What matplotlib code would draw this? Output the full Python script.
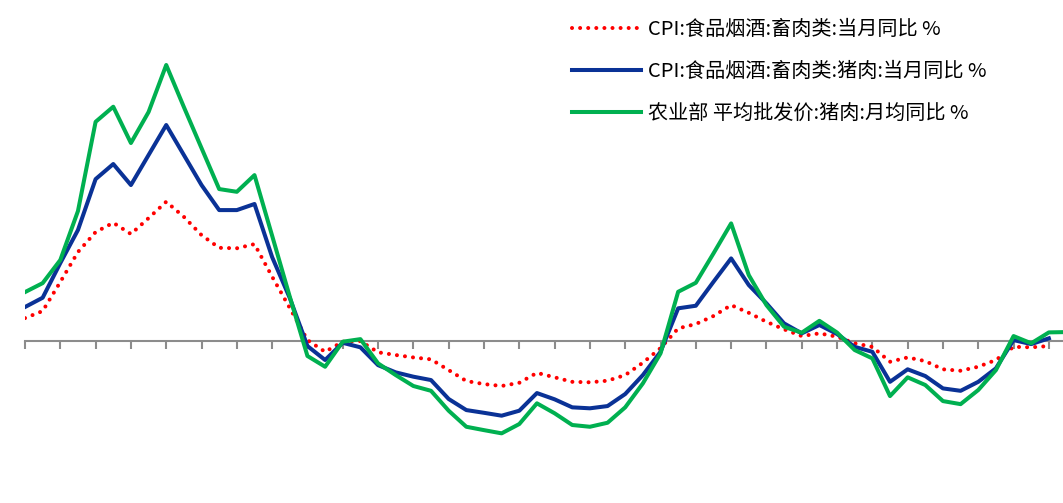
import numpy as np
import matplotlib
matplotlib.use("Agg")
import matplotlib.pyplot as plt

plt.rcParams['font.family'] = ['Noto Sans CJK SC', 'DejaVu Sans']

# monthly YoY change, %
meat_cpi = [14.3, 18.7, 36.8, 55.5, 67.9, 73.7, 66.7, 76.6, 86.8, 77.4,
            66.0, 58.1, 57.8, 60.4, 40.1, 20.6, 0.6, -6.7, -0.4, 0.0,
            -7.0, -8.7, -10.2, -11.4, -18.1, -24.9, -26.8, -28.0, -26.0, -19.8,
            -22.6, -25.4, -25.7, -24.7, -21.2, -13.5, -4.4, 7.9, 10.6, 15.6,
            22.4, 17.6, 12.0, 7.3, 3.1, 4.8, 2.7, -1.4, -3.6, -12.9,
            -10.2, -12.5, -17.6, -18.5, -16.0, -11.8, -3.6, -3.9, -3.1]
pork_cpi = [21.2, 27.0, 48.6, 69.2, 100.9, 110.3, 97.2, 115.9, 134.6, 115.9,
            97.2, 81.6, 81.6, 85.4, 52.3, 26.8, -3.1, -11.8, -1.1, -3.9,
            -15.0, -19.5, -22.2, -24.3, -36.1, -43.0, -44.7, -46.5, -43.4, -32.4,
            -36.3, -41.3, -41.9, -40.5, -33.0, -21.2, -6.7, 20.4, 22.0, 36.9,
            51.5, 34.9, 23.5, 11.0, 4.8, 10.0, 4.4, -3.6, -6.7, -25.4,
            -17.6, -21.8, -29.5, -31.0, -25.4, -17.0, 0.6, -1.9, 1.7]
pork_wholesale = [30.5, 36.1, 50.5, 81.0, 136.6, 146.0, 123.4, 142.7, 172.0, 145.8,
                  120.2, 94.7, 93.0, 103.4, 65.6, 27.6, -9.3, -16.0, -0.4, 1.2,
                  -13.9, -21.2, -28.0, -31.0, -43.4, -53.4, -55.5, -57.5, -51.7, -38.8,
                  -45.0, -52.3, -53.4, -50.9, -41.3, -26.4, -7.7, 30.7, 36.3, 54.6,
                  73.3, 41.1, 22.4, 8.9, 5.2, 12.6, 5.3, -5.6, -10.8, -34.3,
                  -22.6, -27.4, -37.4, -39.3, -30.5, -18.1, 3.1, -1.4, 5.4, 5.6]

labels = ['CPI:食品烟酒:畜肉类:当月同比 %',
          'CPI:食品烟酒:畜肉类:猪肉:当月同比 %',
          '农业部 平均批发价:猪肉:月均同比 %']

fig = plt.figure(figsize=(10.63, 5.03), dpi=100)
ax = fig.add_axes([25 / 1063, 0, 1038 / 1063, 1])

ax.plot(np.arange(len(meat_cpi)), meat_cpi, color='#ff0000', lw=2.9,
        linestyle=(0, (0.01, 2.0)), dash_capstyle='round', label=labels[0])
ax.plot(np.arange(len(pork_cpi)), pork_cpi, color='#0a3296', lw=2.9,
        label=labels[1])
ax.plot(np.arange(len(pork_wholesale)), pork_wholesale, color='#00b050', lw=2.9,
        label=labels[2])

ax.set_xlim(0, 58.8)
ax.set_ylim(-100.9, 212.5)

for s in ['top', 'right', 'left']:
    ax.spines[s].set_visible(False)
ax.spines['bottom'].set_position(('data', 0))
ax.spines['bottom'].set_color('#8c8c8c')
ax.spines['bottom'].set_linewidth(1.5)
ax.spines['bottom'].set_zorder(1)
ax.set_xticks(np.arange(0, 59, 2))
ax.tick_params(axis='x', direction='out', length=5.5, width=1.5,
               color='#8c8c8c', labelbottom=False)
ax.set_yticks([])

ax.legend(loc='upper left', bbox_to_anchor=(572 / 1063, 1 - 19 / 503),
          bbox_transform=fig.transFigure, frameon=False, fontsize=14.5,
          handlelength=3.45, handletextpad=0.3, labelspacing=1.05,
          borderpad=0, borderaxespad=0)

fig.savefig('out.png', dpi=100)
